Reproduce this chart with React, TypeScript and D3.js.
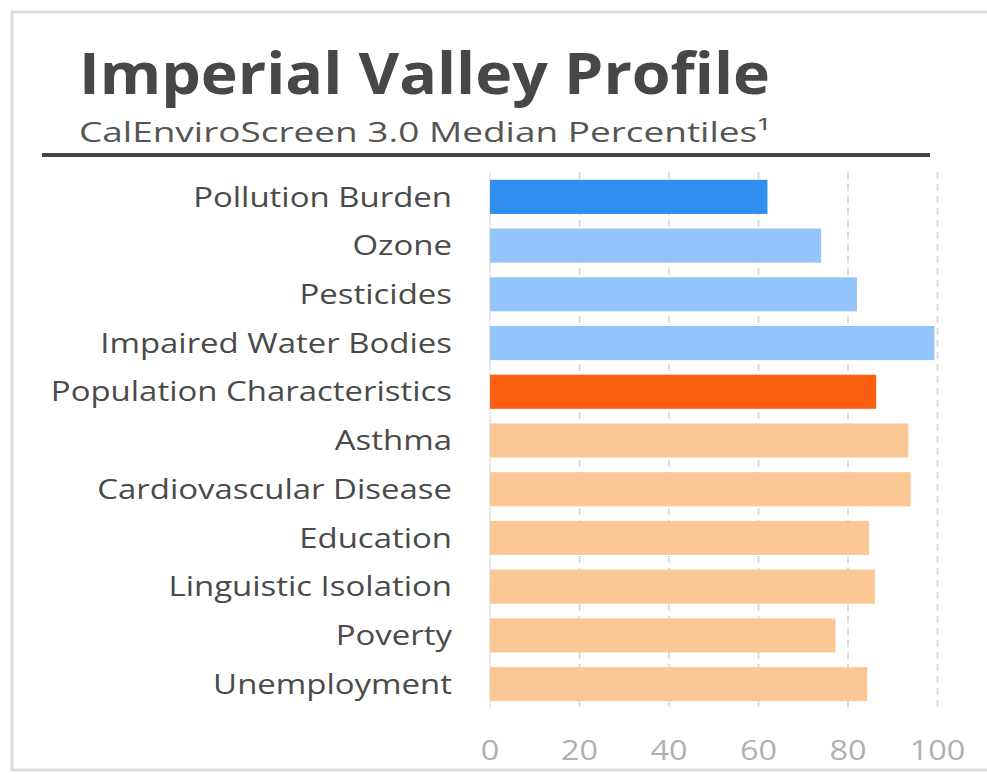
import React from "react";
import * as d3 from "d3";

const categories = [
  "Pollution Burden",
  "Ozone",
  "Pesticides",
  "Impaired Water Bodies",
  "Population Characteristics",
  "Asthma",
  "Cardiovascular Disease",
  "Education",
  "Linguistic Isolation",
  "Poverty",
  "Unemployment",
];
const values = [62, 74, 82, 99.3, 86.3, 93.5, 94, 84.7, 86, 77.2, 84.3];
const groups = ["pb", "pbi", "pbi", "pbi", "pc", "pci", "pci", "pci", "pci", "pci", "pci"];
const xTicks = [0, 20, 40, 60, 80, 100];

const colors: Record<string, string> = {
  pb: "#2f8ef0",
  pbi: "#93c5fa",
  pc: "#fb5f14",
  pci: "#fbc794",
};

const W = 987;
const H = 774;
const font = "'Open Sans', 'Noto Sans', sans-serif";

export default function App() {
  const x = d3.scaleLinear().domain([0, 100]).range([490, 937.5]);
  const y = d3
    .scaleBand<string>()
    .domain(categories)
    .range([172.5, 708.5])
    .paddingInner(0.3)
    .paddingOuter(0.15);

  return (
    <svg
      width={W}
      height={H}
      style={{ position: "absolute", left: 0, top: 0, background: "#fff" }}
    >
      {/* frame */}
      <rect x={12} y={12} width={W + 10} height={758} fill="none" stroke="#dcdcdc" strokeWidth={3} />
      {/* title */}
      <text x={79} y={94} fontFamily={font} fontWeight={700} fontSize={57} fill="#474747" textLength={691} lengthAdjust="spacingAndGlyphs">
        Imperial Valley Profile
      </text>
      <text x={79} y={142} fontFamily={font} fontSize={28} fill="#555" textLength={691} lengthAdjust="spacingAndGlyphs">
        CalEnviroScreen 3.0 Median Percentiles¹
      </text>
      <line x1={42} x2={930} y1={155} y2={155} stroke="#444" strokeWidth={4} />

      {/* gridlines */}
      {xTicks.map((t) => (
        <line
          key={"g" + t}
          x1={x(t)}
          x2={x(t)}
          y1={172}
          y2={709}
          stroke={t === 0 ? "#e4e4e4" : "#dcdcdc"}
          strokeWidth={t === 0 ? 1.5 : 2}
          strokeDasharray={t === 0 ? undefined : "7,5"}
        />
      ))}

      {/* bars */}
      {categories.map((c, i) => (
        <rect
          key={c}
          x={x(0)}
          y={y(c)}
          width={x(values[i]) - x(0)}
          height={y.bandwidth()}
          fill={colors[groups[i]]}
        />
      ))}

      {/* category labels */}
      {categories.map((c) => (
        <g
          key={"l" + c}
          transform={`translate(452, ${(y(c) as number) + y.bandwidth() / 2}) scale(1.22, 1)`}
        >
          <text
            x={0}
            y={0}
            dy="0.36em"
            textAnchor="end"
            fontFamily={font}
            fontSize={27}
            fill="#4a4a4a"
          >
            {c}
          </text>
        </g>
      ))}

      {/* x tick labels */}
      {xTicks.map((t) => (
        <g key={"t" + t} transform={`translate(${x(t)}, 760) scale(1.2, 1)`}>
          <text
            x={0}
            y={0}
            textAnchor="middle"
            fontFamily={font}
            fontSize={27}
            fill="#b0b0b0"
          >
            {t}
          </text>
        </g>
      ))}
    </svg>
  );
}
